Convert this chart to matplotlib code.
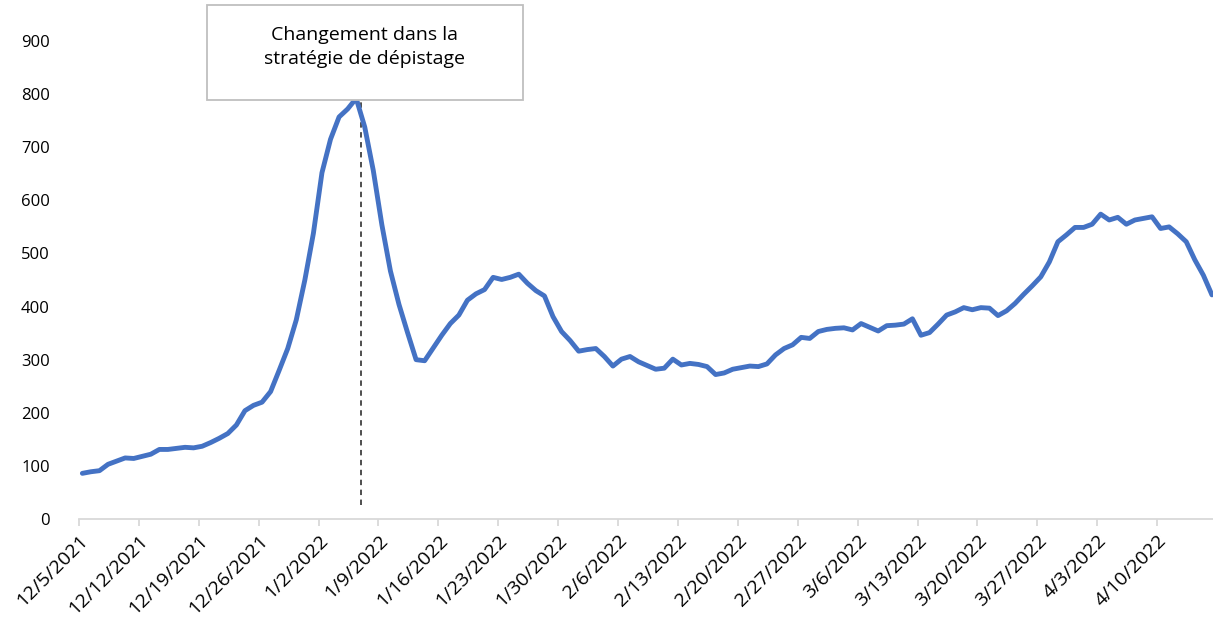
import numpy as np
import pandas as pd
import matplotlib
matplotlib.use("Agg")
import matplotlib.pyplot as plt
from matplotlib.patches import Rectangle

plt.rcParams["font.family"] = ["Open Sans", "DejaVu Sans"]

# daily values, 12/5/2021 -> 4/16/2022
values = [
    86, 89, 91, 103, 109, 115, 114, 118, 122, 131,
    131, 133, 135, 134, 137, 144, 152, 161, 177, 204,
    214, 220, 240, 280, 321, 375, 450, 538, 652, 715,
    757, 772, 792, 738, 656, 554, 467, 404, 351, 300,
    298, 322, 346, 368, 384, 412, 424, 432, 455, 451,
    455, 461, 444, 430, 420, 381, 353, 336, 316, 319,
    321, 306, 288, 301, 306, 296, 289, 282, 284, 301,
    290, 293, 291, 287, 272, 275, 282, 285, 288, 287,
    292, 309, 321, 328, 342, 340, 353, 357, 359, 360,
    356, 368, 361, 354, 364, 365, 367, 377, 346, 351,
    367, 384, 390, 398, 394, 398, 397, 383, 392, 406,
    423, 439, 456, 484, 522, 535, 549, 549, 555, 574,
    563, 568, 555, 563, 566, 569, 547, 550, 537, 522,
    488, 459, 422,
]
start_date = "2021-12-05"
tick_dates = pd.date_range("2021-12-05", "2022-04-10", freq="7D")
tick_labels = [f"{d.month}/{d.day}/{d.year}" for d in tick_dates]
y_ticks = [0, 100, 200, 300, 400, 500, 600, 700, 800, 900]
change_date = pd.Timestamp("2022-01-07")
note = "Changement dans la\nstratégie de dépistage"

# points sit a little right of the weekly tick marks, as in the source chart
dates = pd.date_range(start_date, periods=len(values), freq="D") + pd.Timedelta(hours=9.5)

fig = plt.figure(figsize=(12.13, 6.26), dpi=100)
ax = fig.add_axes([0.0651, 0.1709, 0.9349, 0.7636])

ax.plot(dates, values, color="#4472C4", lw=3.5, solid_joinstyle="round",
        solid_capstyle="round", zorder=3)

ax.axvline(change_date, ymin=0.029, ymax=0.88, color="#404040", lw=1.3,
           ls=(0, (3, 2.5)), zorder=2)

ax.set_xlim(tick_dates[0], dates[-1] + pd.Timedelta(hours=3))
ax.set_ylim(0, 900)
ax.set_xticks(tick_dates)
ax.set_xticklabels(tick_labels, rotation=45, ha="right", rotation_mode="anchor",
                   fontsize=14, color="#000000")
ax.set_yticks(y_ticks)
ax.set_yticklabels([str(v) for v in y_ticks], fontsize=12, color="#000000")

for s in ["top", "right", "left"]:
    ax.spines[s].set_visible(False)
ax.spines["bottom"].set_color("#d9d9d9")
ax.spines["bottom"].set_linewidth(1.3)
ax.tick_params(axis="y", length=0, pad=21)
ax.tick_params(axis="x", length=5, width=1.3, color="#d9d9d9", pad=4)

# annotation box
box = Rectangle((0.1129, 0.8766), 0.2786, 0.1987, transform=ax.transAxes,
                facecolor="white", edgecolor="#bfbfbf", lw=1.3, clip_on=False,
                zorder=5)
ax.add_patch(box)
ax.text(0.2522, 0.988, note, transform=ax.transAxes, ha="center", va="center",
        fontsize=14, linespacing=1.45, zorder=6)

fig.savefig("out.png", dpi=100)
